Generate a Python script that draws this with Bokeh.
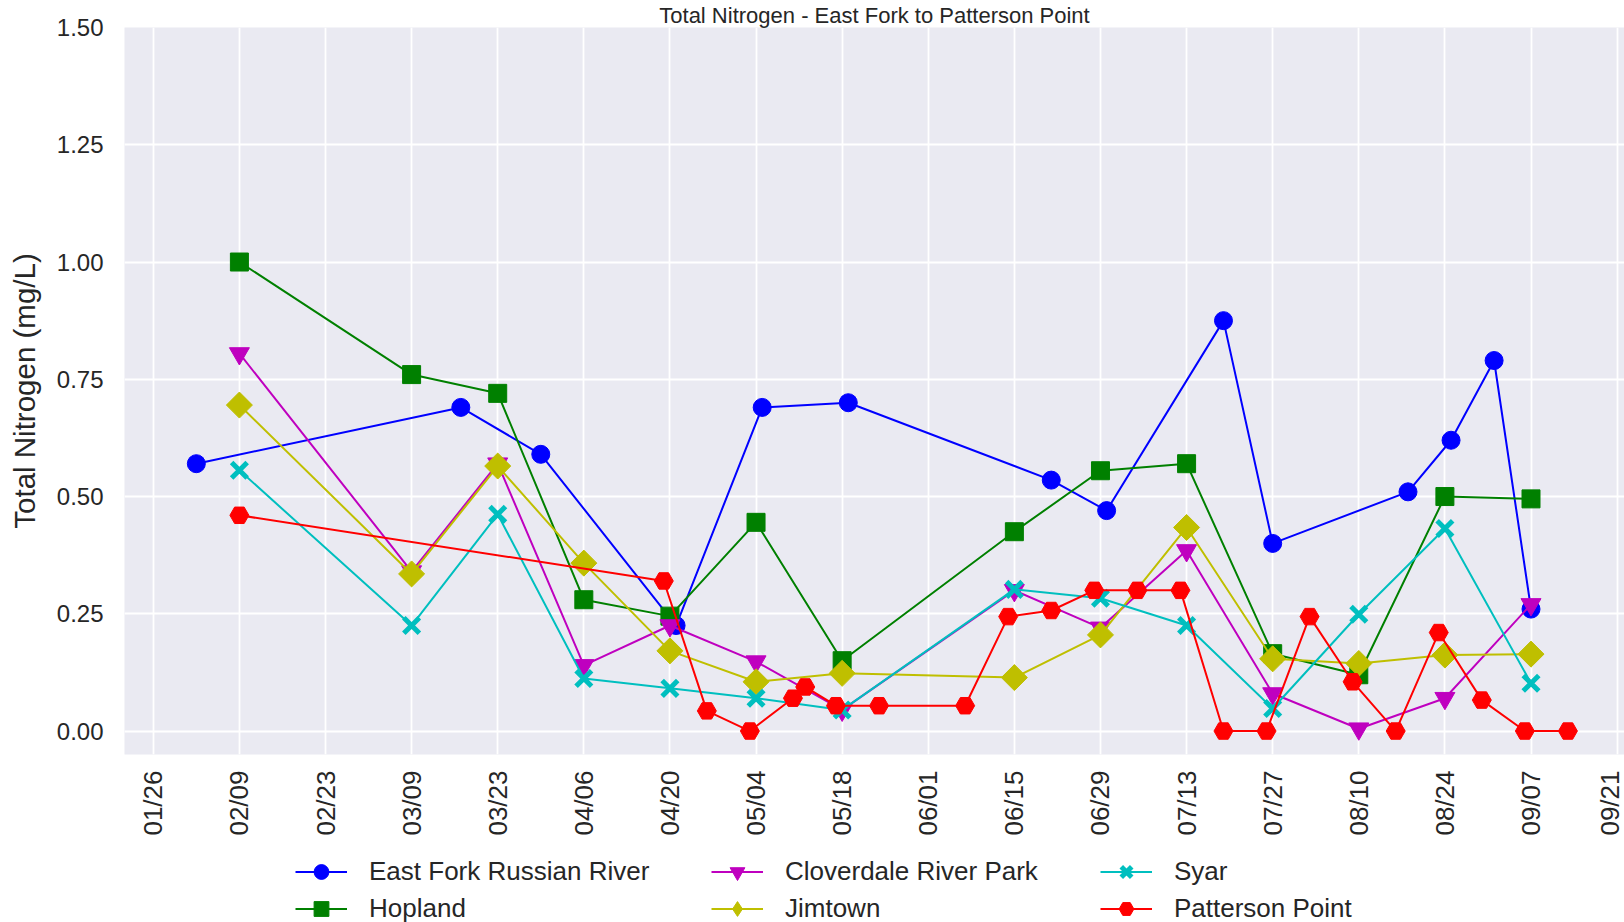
import math
import pandas as pd
from bokeh.plotting import figure
from bokeh.layouts import column
from bokeh.models import (FixedTicker, DatetimeTickFormatter, PrintfTickFormatter,
                          Legend, LegendItem, Range1d)
from bokeh.embed import file_html
from bokeh.resources import INLINE

# ---------------- data ----------------
tick_dates = ["2015-01-26", "2015-02-09", "2015-02-23", "2015-03-09", "2015-03-23",
              "2015-04-06", "2015-04-20", "2015-05-04", "2015-05-18", "2015-06-01",
              "2015-06-15", "2015-06-29", "2015-07-13", "2015-07-27", "2015-08-10",
              "2015-08-24", "2015-09-07", "2015-09-21"]
y_ticks = [0.0, 0.25, 0.5, 0.75, 1.0, 1.25, 1.5]

east_fork_dates = ["2015-02-02", "2015-03-17", "2015-03-30", "2015-04-21", "2015-05-05",
                   "2015-05-19", "2015-06-21", "2015-06-30", "2015-07-19", "2015-07-27",
                   "2015-08-18", "2015-08-25", "2015-09-01", "2015-09-07"]
east_fork_tn = [0.57, 0.69, 0.59, 0.225, 0.69, 0.70, 0.535, 0.47, 0.875, 0.40,
                0.51, 0.62, 0.79, 0.26]

site_dates = ["2015-02-09", "2015-03-09", "2015-03-23", "2015-04-06", "2015-04-20",
              "2015-05-04", "2015-05-18", "2015-06-15", "2015-06-29", "2015-07-13",
              "2015-07-27", "2015-08-10", "2015-08-24", "2015-09-07"]
hopland_tn = [1.00, 0.76, 0.72, 0.28, 0.245, 0.445, 0.15, 0.425, 0.555, 0.57,
              0.165, 0.12, 0.50, 0.495]
cloverdale_tn = [0.805, 0.34, 0.57, 0.14, 0.225, 0.148, 0.045, 0.30, 0.22, 0.385,
                 0.08, 0.005, 0.07, 0.27]
jimtown_tn = [0.695, 0.335, 0.565, 0.358, 0.171, 0.105, 0.123, 0.114, 0.205, 0.434,
              0.154, 0.144, 0.162, 0.164]
syar_tn = [0.556, 0.225, 0.462, 0.112, 0.091, 0.070, 0.045, 0.302, 0.283, 0.225,
           0.048, 0.249, 0.432, 0.102]

patterson_dates = ["2015-02-09", "2015-04-19", "2015-04-26", "2015-05-03", "2015-05-10",
                   "2015-05-12", "2015-05-17", "2015-05-24", "2015-06-07", "2015-06-14",
                   "2015-06-21", "2015-06-28", "2015-07-05", "2015-07-12", "2015-07-19",
                   "2015-07-26", "2015-08-02", "2015-08-09", "2015-08-16", "2015-08-23",
                   "2015-08-30", "2015-09-06", "2015-09-13"]
patterson_tn = [0.46, 0.32, 0.043, 0.0, 0.07, 0.094, 0.054, 0.054, 0.054, 0.244,
                0.257, 0.30, 0.30, 0.30, 0.0, 0.0, 0.244, 0.105, 0.0, 0.21,
                0.066, 0.0, 0.0]

title_text = "Total Nitrogen - East Fork to Patterson Point"
y_label = "Total Nitrogen (mg/L)"

# ---------------- helpers ----------------
DAY = 86400000.0
W = 1624
FONT = "Liberation Sans"
TXT = "#262626"


def ms(d):
    return pd.Timestamp(d).value / 1e6


# ---------------- main plot ----------------
x0 = ms(tick_dates[0])
x_start = x0 - 4.68 * DAY
x_end = x0 + 239.2 * DAY

MAIN_H = 845
p = figure(width=W, height=MAIN_H, x_axis_type="datetime",
           x_range=Range1d(x_start, x_end), y_range=Range1d(-0.05, 1.5),
           output_backend="svg", toolbar_location=None,
           min_border_left=124, min_border_right=0, min_border_top=27,
           min_border_bottom=91)
p.background_fill_color = "#EAEAF2"
p.border_fill_color = "white"
p.outline_line_color = None

p.title.text = title_text
p.title.align = "center"
p.title.text_font = FONT
p.title.text_font_size = "22px"
p.title.text_font_style = "normal"
p.title.text_color = TXT
p.title.standoff = 0
p.title.offset = 3

xt = FixedTicker(ticks=[ms(d) for d in tick_dates])
p.xaxis.ticker = xt
p.xgrid.ticker = xt
fmt = "%m/%d"
p.xaxis.formatter = DatetimeTickFormatter(
    milliseconds=fmt, seconds=fmt, minsec=fmt, minutes=fmt, hourmin=fmt,
    hours=fmt, days=fmt, months=fmt, years=fmt)
yt = FixedTicker(ticks=y_ticks)
p.yaxis.ticker = yt
p.ygrid.ticker = yt
p.yaxis.formatter = PrintfTickFormatter(format="%.2f")

for g in (p.xgrid, p.ygrid):
    g.grid_line_color = "white"
    g.grid_line_width = 1.8

for ax in (p.xaxis, p.yaxis):
    ax.axis_line_color = None
    ax.major_tick_line_color = None
    ax.minor_tick_line_color = None
    ax.major_tick_out = 0
    ax.major_tick_in = 0
    ax.major_label_text_font = FONT
    ax.major_label_text_color = TXT

p.xaxis.major_label_text_font_size = "26px"
p.yaxis.major_label_text_font_size = "24px"
p.xaxis.major_label_orientation = math.pi / 2
p.xaxis.major_label_standoff = 16
p.yaxis.major_label_standoff = 21
p.yaxis.axis_label = y_label
p.yaxis.axis_label_text_font = FONT
p.yaxis.axis_label_text_font_size = "29.5px"
p.yaxis.axis_label_text_font_style = "normal"
p.yaxis.axis_label_text_color = TXT
p.yaxis.axis_label_standoff = 13

# name, dates, values, colour, plot marker style, legend-key marker style
series = [
    ("East Fork Russian River", east_fork_dates, east_fork_tn, "#0000FF",
     dict(marker="circle", size=18), None),
    ("Hopland", site_dates, hopland_tn, "#008000",
     dict(marker="square", size=18), None),
    ("Cloverdale River Park", site_dates, cloverdale_tn, "#BF00BF",
     dict(marker="inverted_triangle", size=20), None),
    ("Jimtown", site_dates, jimtown_tn, "#BFBF00",
     dict(marker="square", size=18.4, angle=math.pi / 4), dict(marker="diamond", size=18)),
    ("Syar", site_dates, syar_tn, "#00BFBF",
     dict(marker="x", size=22, line_width=5), None),
    ("Patterson Point", patterson_dates, patterson_tn, "#FF0000",
     dict(marker="hex", size=19), None),
]

# ---------------- legend strip (frame is aligned with the main frame) ----------------
LH = 922 - MAIN_H
lfig = figure(width=W, height=LH, x_range=Range1d(0, 1), y_range=Range1d(0, 1),
              x_axis_type=None, y_axis_type=None, output_backend="svg",
              toolbar_location=None, min_border_left=124, min_border_right=0,
              min_border_top=0, min_border_bottom=0)
lfig.background_fill_color = "white"
lfig.border_fill_color = "white"
lfig.outline_line_color = None
lfig.grid.visible = False

items = []
for name, dates, vals, color, mk, legmk in series:
    xs = pd.to_datetime(dates)
    kw = dict(mk)
    lw = kw.pop("line_width", 1)
    p.line(xs, vals, line_color=color, line_width=2)
    p.scatter(xs, vals, fill_color=color, line_color=color, line_width=lw, **kw)
    # same series in the legend strip (outside its view) -> used only for legend keys
    lkw = dict(legmk) if legmk is not None else dict(kw)
    lr = lfig.line(xs, vals, line_color=color, line_width=2)
    sr = lfig.scatter(xs, vals, fill_color=color, line_color=color, line_width=lw, **lkw)
    items.append(LegendItem(label=name, renderers=[lr, sr]))

col_x = [171, 587, 976]
for ci, cx in enumerate(col_x):
    leg = Legend(items=items[2 * ci:2 * ci + 2], location=(cx, -4.5),
                 orientation="vertical", glyph_width=52, glyph_height=37,
                 spacing=0, label_standoff=22, padding=0, margin=0,
                 border_line_color=None, background_fill_alpha=0,
                 inactive_fill_alpha=0,
                 label_text_font=FONT, label_text_font_size="26px",
                 label_text_color=TXT, label_text_baseline="middle")
    lfig.add_layout(leg)

layout = column(p, lfig, spacing=0)
open("out.html", "w").write(file_html(layout, INLINE))
